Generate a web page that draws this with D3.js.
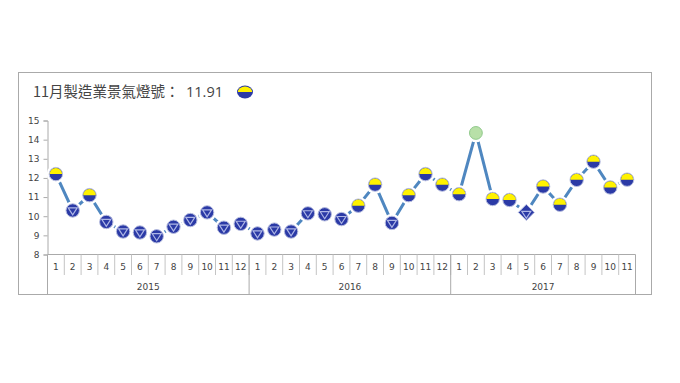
<!DOCTYPE html>
<html lang="en">
<head>
  <meta charset="UTF-8">
  <title>製造業景氣燈號</title>
  <script src="https://d3js.org/d3.v7.min.js"></script>
  <style>
    html, body { margin: 0; padding: 0; background: #fff; }
    svg { display: block; }
    text { font-family: "DejaVu Sans", sans-serif; fill: #444; }
  </style>
</head>
<body>
<script>
  // Data
  const years = ["2015", "2016", "2017"];
  const months = [12, 12, 11];
  const values = [
    12.2, 10.3, 11.1, 9.7, 9.2, 9.15, 8.95, 9.45, 9.8, 10.2, 9.4, 9.6,
    9.1, 9.3, 9.2, 10.15, 10.1, 9.85, 10.55, 11.65, 9.65, 11.1, 12.2, 11.65,
    11.15, 14.35, 10.9, 10.85, 10.2, 11.55, 10.6, 11.9, 12.85, 11.5, 11.91
  ];
  // b = blue, by = yellow-blue, g = green, d = blue diamond
  const lights = [
    "by", "b", "by", "b", "b", "b", "b", "b", "b", "b", "b", "b",
    "b", "b", "b", "b", "b", "b", "by", "by", "b", "by", "by", "by",
    "by", "g", "by", "by", "d", "by", "by", "by", "by", "by", "by"
  ];
  const yTicks = [8, 9, 10, 11, 12, 13, 14, 15];
  const titleText = "11月製造業景氣燈號：";
  const titleValue = "11.91";

  const width = 680, height = 383;
  const plotLeft = 47.5, plotRight = 635.5, plotTop = 120.5, plotBottom = 254.5;
  const gray = "#aaa", blue = "#2b3aa6", yellow = "#fff200", rim = "#b9bfe0";

  const svg = d3.select("body").append("svg")
    .attr("width", width)
    .attr("height", height);

  // Frame
  svg.append("rect")
    .attr("x", 18.5).attr("y", 72.5)
    .attr("width", 633).attr("height", 222)
    .attr("fill", "#fff").attr("stroke", gray);

  // Half yellow / half blue clip
  const defs = svg.append("defs");
  defs.append("clipPath").attr("id", "topHalf")
    .append("rect").attr("x", -12).attr("y", -12).attr("width", 24).attr("height", 12);

  // One row per month
  const keys = [];
  const labels = [];
  years.forEach((yr, i) => {
    for (let m = 1; m <= months[i]; m++) {
      keys.push(yr + "-" + m);
      labels.push(m);
    }
  });

  const x = d3.scaleBand().domain(keys).range([plotLeft, plotRight]);
  const y = d3.scaleLinear().domain([8, 15]).range([plotBottom, plotTop]);

  // Y axis
  const yAxis = svg.append("g")
    .attr("transform", `translate(${plotLeft},0)`)
    .call(d3.axisLeft(y).tickValues(yTicks).tickSize(4).tickPadding(4).tickFormat(d3.format("d")));
  yAxis.selectAll("line,path").attr("stroke", gray);
  yAxis.selectAll("text").style("font-size", "9px").style("font-family", "DejaVu Sans").attr("fill", "#444");

  // X axis, month labels
  const xAxis = svg.append("g")
    .attr("transform", `translate(0,${plotBottom})`)
    .call(d3.axisBottom(x).tickSize(0).tickPadding(9).tickFormat((d, i) => labels[i]));
  xAxis.select("path").attr("stroke", gray).attr("d", `M${plotLeft},0H${plotRight}`);
  xAxis.selectAll("text").style("font-size", "9px").style("font-family", "DejaVu Sans").attr("fill", "#444");

  // Month separators
  svg.append("g").selectAll("line")
    .data(keys)
    .join("line")
    .attr("x1", d => x(d)).attr("x2", d => x(d))
    .attr("y1", plotBottom).attr("y2", plotBottom + 20.5)
    .attr("stroke", "#c4c4c4");
  svg.append("line")
    .attr("x1", plotRight).attr("x2", plotRight)
    .attr("y1", plotBottom).attr("y2", 294)
    .attr("stroke", gray);

  // Year separators and labels
  let start = 0;
  years.forEach((yr, i) => {
    const x0 = x(keys[start]);
    const x1 = start + months[i] < keys.length ? x(keys[start + months[i]]) : plotRight;
    svg.append("line")
      .attr("x1", x0).attr("x2", x0)
      .attr("y1", plotBottom).attr("y2", 294)
      .attr("stroke", gray);
    svg.append("text")
      .attr("x", (x0 + x1) / 2).attr("y", 290)
      .attr("text-anchor", "middle")
      .style("font-size", "9px")
      .text(yr);
    start += months[i];
  });

  // Line
  const cx = (d, i) => x(keys[i]) + x.bandwidth() / 2;
  svg.append("path")
    .datum(values)
    .attr("fill", "none")
    .attr("stroke", "#4f87c0")
    .attr("stroke-width", 3)
    .attr("d", d3.line().x(cx).y(d => y(d)));

  // White halo round each marker, cuts the line like in the original
  svg.append("g").selectAll("circle")
    .data(values)
    .join("circle")
    .attr("cx", cx).attr("cy", d => y(d))
    .attr("r", 9.2)
    .attr("fill", "#fff");

  function drawLight(g, kind) {
    if (kind === "g") {
      g.append("circle").attr("r", 6.4).attr("fill", "#b8e0a8").attr("stroke", "#8fc98a");
    } else if (kind === "by") {
      g.append("circle").attr("r", 6.7).attr("fill", blue).attr("stroke", rim).attr("stroke-width", 1);
      g.append("circle").attr("r", 6.2).attr("fill", yellow).attr("clip-path", "url(#topHalf)");
    } else if (kind === "b") {
      g.append("circle").attr("r", 6.7).attr("fill", blue).attr("stroke", rim).attr("stroke-width", 1);
      g.append("path").attr("d", "M-4.5,-2.6H4.5L0,4.4Z").attr("fill", "none").attr("stroke", "#aeb6e6").attr("stroke-width", 1.2);
    } else {
      g.append("path").attr("d", "M0,-8L8,0L0,8L-8,0Z").attr("fill", blue).attr("stroke", rim);
      g.append("path").attr("d", "M-4.5,-1H4.5L0,6Z").attr("fill", "none").attr("stroke", "#aeb6e6").attr("stroke-width", 1.2);
    }
  }

  // Markers
  svg.append("g").selectAll("g")
    .data(values)
    .join("g")
    .attr("transform", (d, i) => `translate(${cx(d, i)},${y(d)})`)
    .each(function (d, i) { drawLight(d3.select(this), lights[i]); });

  // Title
  svg.append("text")
    .attr("x", 33).attr("y", 97)
    .style("font-family", "'Noto Sans CJK TC'")
    .style("font-size", "14.5px")
    .text(titleText);
  svg.append("text")
    .attr("x", 186).attr("y", 97)
    .style("font-family", "'Open Sans'")
    .style("font-size", "14.5px")
    .text(titleValue);

  // Title lamp
  const lamp = svg.append("g").attr("transform", "translate(245,92)");
  lamp.append("ellipse").attr("rx", 8).attr("ry", 6.5).attr("fill", blue);
  lamp.append("ellipse").attr("rx", 7.2).attr("ry", 5.4).attr("fill", yellow).attr("clip-path", "url(#topHalf)");
</script>
</body>
</html>
